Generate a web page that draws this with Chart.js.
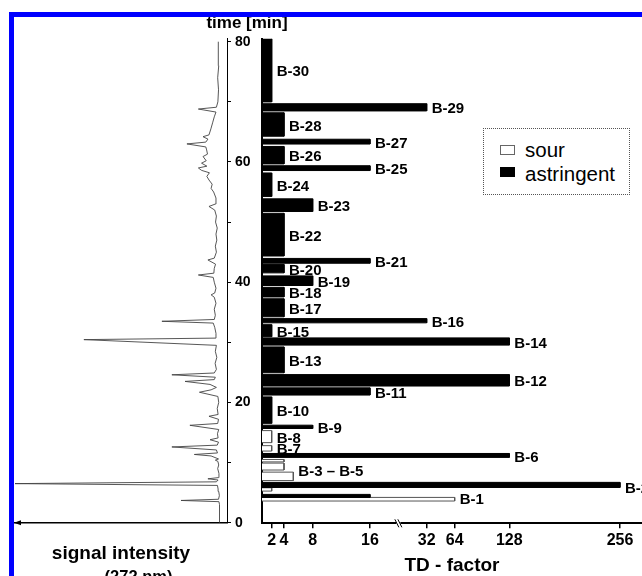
<!DOCTYPE html>
<html>
<head>
<meta charset="utf-8">
<script src="https://cdn.jsdelivr.net/npm/chart.js@4.4.0/dist/chart.umd.min.js"></script>
<style>
html,body{margin:0;padding:0;width:642px;height:576px;overflow:hidden;background:#fff;font-family:"Liberation Sans",Arial,sans-serif;}
#wrapA{position:absolute;left:0;top:0;width:262px;height:600px;}
#wrapB{position:absolute;left:252px;top:0;width:390px;height:600px;}
.blueTop{position:absolute;left:9px;top:12px;width:633px;height:5px;background:#0000ff;z-index:5}
.blueLeft{position:absolute;left:9px;top:12px;width:5px;height:564px;background:#0000ff;z-index:5}
#timeTitle{position:absolute;left:247px;top:23px;transform:translate(-50%,-50%);font:bold 17px "Liberation Sans",Arial,sans-serif;color:#000;z-index:3;white-space:nowrap}
#legend{position:absolute;left:483px;top:128px;width:147px;height:67px;border:1px dotted #555;box-sizing:border-box;z-index:4;background:#fff}
#legend .sw{position:absolute;left:16px;width:15px;height:10px;box-sizing:border-box}
#legend .tx{position:absolute;left:41px;font:20.5px "Liberation Sans",Arial,sans-serif;color:#000;line-height:20px;white-space:nowrap}
</style>
</head>
<body>
<div id="wrapA"><canvas id="cA" width="262" height="600"></canvas></div>
<div id="wrapB"><canvas id="cB" width="390" height="600"></canvas></div>
<div id="timeTitle">time [min]</div>
<div id="legend">
  <div class="sw" style="top:16px;background:#fff;border:1px solid #666"></div>
  <div class="tx" style="top:11px">sour</div>
  <div class="sw" style="top:38px;background:#000;border:1px solid #000"></div>
  <div class="tx" style="top:35px">astringent</div>
</div>
<div class="blueTop"></div>
<div class="blueLeft"></div>
<script>
// ---------------- DATA ----------------
// Chromatogram (signal intensity at 272 nm vs. retention time)
const chromTime = [0.0,1.0,2.0,3.0,3.5,3.7,3.9,4.5,5.2,5.6,6.2,6.5,6.8,7.1,7.3,7.5,8.2,9.0,9.6,10.2,10.4,10.6,11.1,11.35,11.6,12.1,12.6,12.9,13.4,13.8,14.1,14.8,15.5,16.2,16.5,17.2,17.7,18.0,19.0,20.0,21.0,21.7,22.1,22.5,23.0,23.5,23.8,24.2,24.6,24.9,25.5,26.5,27.5,28.5,29.5,30.45,30.7,31.5,32.5,33.2,33.5,33.8,34.5,35.5,36.5,37.5,37.9,38.2,39.0,40.0,40.8,41.2,41.5,42.3,43.0,43.7,44.0,45.0,46.0,47.0,48.0,49.0,50.0,51.0,52.0,52.6,53.0,54.0,55.0,55.6,56.3,57.0,57.6,58.2,58.6,59.0,59.3,59.8,60.2,60.9,61.3,62.0,62.5,63.0,63.3,63.8,64.2,64.5,65.5,66.5,67.5,68.3,68.8,69.1,70.0,72.0,74.0,76.0,78.0,80.0];
const chromSignal = [3.6,3.4,3.7,3.5,3.8,21.7,4.0,3.6,3.9,4.2,4.5,100,5.0,4.2,9.0,4.0,3.8,4.4,3.9,4.3,5.5,4.0,7.5,15.4,4.5,5.0,26,4.6,4.0,8.0,4.2,4.5,3.9,17.5,4.4,4.0,8.5,4.2,4.6,3.9,4.3,13,7.5,5.0,8,19.8,6,5.5,26,6.0,5.0,5.6,4.8,5.5,5.0,67.5,5.6,5.2,5.8,6.5,30.7,6,5.5,6.0,5.2,6.0,7.5,5.8,5.2,6.0,6.5,13.5,6.2,6.0,5.4,9.0,6.0,5.0,5.5,4.8,5.2,4.6,5.4,5.0,5.8,8.5,5.5,5.2,6.3,7.5,7.0,8.5,9.5,8.3,12.0,13.5,9.5,12.0,9.8,11.3,9.2,9.6,10.0,18.9,10.0,9.0,11.3,8.5,7.6,6.8,6.0,5.2,13.5,5.0,4.3,4.0,4.4,3.9,4.2,4.0];

// Fractions (TD-factor bars)
const fractionLabels = ['B-30','B-29','B-28','B-27','B-26','B-25','B-24','B-23','B-22','B-21','B-20','B-19','B-18','B-17','B-16','B-15','B-14','B-13','B-12','B-11','B-10','B-9','B-8','B-7','B-6','B-3 – B-5','B-3 – B-5','B-3 – B-5','B-2','B-2','B-1','B-1'];
const timeStart = [70.0,68.5,64.3,63.0,59.7,58.6,54.3,51.8,44.4,43.2,41.6,39.5,37.6,34.3,33.3,31.0,29.6,25.0,22.8,21.3,16.6,15.75,13.4,12.0,10.95,10.2,8.85,7.1,5.95,5.35,4.3,3.7];
const timeEnd   = [80.5,69.7,68.2,63.8,62.6,59.4,58.2,53.9,51.5,44.0,43.0,41.1,39.2,37.3,34.0,33.0,30.8,29.3,24.7,22.5,21.0,16.3,15.4,12.9,11.6,10.6,10.0,8.5,6.8,5.9,4.8,4.3];
const tdFactor  = [2,32,4,16,4,16,2,8,4,16,4,8,4,4,32,2,128,4,128,16,2,8,2,2,128,4,4,5.3,256,2,16,64];
const taste     = ['astringent','astringent','astringent','astringent','astringent','astringent','astringent','astringent','astringent','astringent','astringent','astringent','astringent','astringent','astringent','astringent','astringent','astringent','astringent','astringent','astringent','astringent','sour','sour','astringent','sour','sour','sour','astringent','sour','astringent','sour'];

const tdTicks = [2,4,8,16,32,64,128,256];
const timeTicksLabelled = [0,20,40,60,80];

// ---------------- SCALE ----------------
const FONT = '"Liberation Sans", Arial, sans-serif';
// broken TD-factor axis: tick value -> fraction of axis length
const TD_ANCHORS = [[0,0],[2,0.0255],[4,0.0579],[8,0.1334],[16,0.2842],[32,0.4334],[64,0.5071],[128,0.6508],[256,0.9421],[281,1]];
class TdBreakScale extends Chart.LinearScale {
  getPixelForValue(value) {
    if (value === null || value === undefined || isNaN(value)) return NaN;
    const a = TD_ANCHORS;
    let i = 1;
    while (i < a.length - 1 && value > a[i][0]) i++;
    const [v0, f0] = a[i-1], [v1, f1] = a[i];
    const f = f0 + (value - v0) * (f1 - f0) / (v1 - v0);
    return this.left + f * this.width;
  }
  getValueForPixel(pixel) {
    const f = (pixel - this.left) / this.width;
    const a = TD_ANCHORS;
    let i = 1;
    while (i < a.length - 1 && f > a[i][1]) i++;
    const [v0, f0] = a[i-1], [v1, f1] = a[i];
    return v0 + (f - f0) * (v1 - v0) / (f1 - f0);
  }
}
TdBreakScale.id = 'tdbreak';
Chart.register(TdBreakScale);

// ---------------- PLUGINS ----------------
const arrowPlugin = {
  id: 'axisArrow',
  afterDraw(chart) {
    const {ctx, chartArea: {left, bottom}} = chart;
    ctx.save();
    ctx.fillStyle = '#000';
    ctx.beginPath();
    ctx.moveTo(left - 1, bottom);
    ctx.lineTo(left + 6, bottom - 2.5);
    ctx.lineTo(left + 6, bottom + 2.5);
    ctx.closePath();
    ctx.fill();
    ctx.restore();
  }
};

const labelPlugin = {
  id: 'barLabels',
  afterDatasetsDraw(chart) {
    const {ctx, scales: {x, y}} = chart;
    const groups = {};
    fractionLabels.forEach((lab, i) => {
      if (!lab) return;
      const g = groups[lab] || (groups[lab] = {v: 0, lo: Infinity, hi: -Infinity});
      g.v = Math.max(g.v, tdFactor[i]);
      g.lo = Math.min(g.lo, timeStart[i]);
      g.hi = Math.max(g.hi, timeEnd[i]);
    });
    ctx.save();
    ctx.font = 'bold 15px ' + FONT;
    ctx.fillStyle = '#000';
    ctx.textBaseline = 'middle';
    ctx.textAlign = 'left';
    for (const lab in groups) {
      const g = groups[lab];
      ctx.fillText(lab, x.getPixelForValue(g.v) + 5, y.getPixelForValue((g.lo + g.hi) / 2) + 2);
    }
    ctx.restore();
  }
};

const breakPlugin = {
  id: 'axisBreak',
  afterDraw(chart) {
    const {ctx, scales: {x}, chartArea} = chart;
    const px = (x.getPixelForValue(16) + x.getPixelForValue(32)) / 2;
    const py = chartArea.bottom;
    ctx.save();
    ctx.fillStyle = '#fff';
    ctx.fillRect(px - 2, py - 2, 4, 4);
    ctx.strokeStyle = '#000';
    ctx.lineWidth = 1;
    for (const dx of [-1.5, 1.5]) {
      ctx.beginPath();
      ctx.moveTo(px + dx - 2, py - 4);
      ctx.lineTo(px + dx + 2, py + 4);
      ctx.stroke();
    }
    ctx.restore();
  }
};

// ---------------- CHART A: chromatogram ----------------
new Chart(document.getElementById('cA'), {
  type: 'line',
  data: {
    datasets: [{
      data: chromTime.map((t, i) => ({x: chromSignal[i], y: t})),
      borderColor: '#444',
      borderWidth: 0.9,
      pointRadius: 0,
      tension: 0,
      fill: false
    }]
  },
  options: {
    responsive: false,
    animation: false,
    layout: {padding: {left: 15, top: 38.7, right: 0, bottom: 12.4}},
    plugins: {
      legend: {display: false},
      tooltip: {enabled: false},
      title: {display: true, position: 'bottom', text: '(272 nm)', color: '#000',
              font: {family: FONT, size: 16.5, weight: 'bold', lineHeight: 1.2}, padding: 0}
    },
    scales: {
      x: {
        type: 'linear', reverse: true, min: 0, max: 100,
        ticks: {display: false},
        grid: {display: false},
        border: {display: true, color: '#000', width: 1.5},
        title: {display: true, text: 'signal intensity', color: '#000',
                font: {family: FONT, size: 19, weight: 'bold', lineHeight: 1.2}, padding: {top: 0, bottom: 3}},
        afterFit(s) { s.height = 45.1; }
      },
      y: {
        type: 'linear', position: 'right', min: 0, max: 80.5,
        ticks: {stepSize: 10, includeBounds: false, color: '#000', padding: 4,
                font: {family: FONT, size: 14, weight: 'bold'},
                callback: v => timeTicksLabelled.includes(v) ? String(v) : ''},
        grid: {drawOnChartArea: false, drawTicks: true, tickLength: 4, color: '#000', lineWidth: 1},
        border: {display: true, color: '#000', width: 1},
        afterFit(s) { s.width = 35; }
      }
    }
  },
  plugins: [arrowPlugin]
});

// ---------------- CHART B: TD-factor bars ----------------
const barDatasets = fractionLabels.map((lab, i) => ({
  label: lab,
  data: [
    {x: 0, y: timeEnd[i]},
    {x: tdFactor[i], y: timeEnd[i]},
    {x: tdFactor[i], y: timeStart[i]},
    {x: 0, y: timeStart[i]}
  ],
  fill: 'shape',
  backgroundColor: taste[i] === 'sour' ? '#ffffff' : '#000000',
  borderColor: taste[i] === 'sour' ? '#555555' : '#000000',
  borderWidth: 1,
  pointRadius: 0,
  tension: 0
}));

new Chart(document.getElementById('cB'), {
  type: 'line',
  data: {datasets: barDatasets},
  options: {
    responsive: false,
    animation: false,
    layout: {padding: {left: 10, top: 38.7, right: 0, bottom: 0}},
    plugins: {legend: {display: false}, tooltip: {enabled: false}},
    scales: {
      x: {
        type: 'tdbreak', min: 0, max: 281,
        afterBuildTicks(s) { s.ticks = tdTicks.map(v => ({value: v})); },
        ticks: {autoSkip: false, maxRotation: 0, color: '#000', padding: 3,
                font: {family: FONT, size: 16, weight: 'bold'},
                callback: v => String(v)},
        grid: {drawOnChartArea: false, drawTicks: true, tickLength: 5, color: '#000', lineWidth: 1.5},
        border: {display: true, color: '#000', width: 2},
        title: {display: true, text: 'TD - factor', color: '#000',
                font: {family: FONT, size: 19, weight: 'bold', lineHeight: 1.2}, padding: {top: 0, bottom: 22.6}},
        afterFit(s) { s.height = 76.7; }
      },
      y: {
        type: 'linear', min: 0, max: 80.5,
        ticks: {display: false},
        grid: {display: false},
        border: {display: true, color: '#000', width: 2},
        afterFit(s) { s.width = 0; }
      }
    }
  },
  plugins: [labelPlugin, breakPlugin]
});
</script>
</body>
</html>
